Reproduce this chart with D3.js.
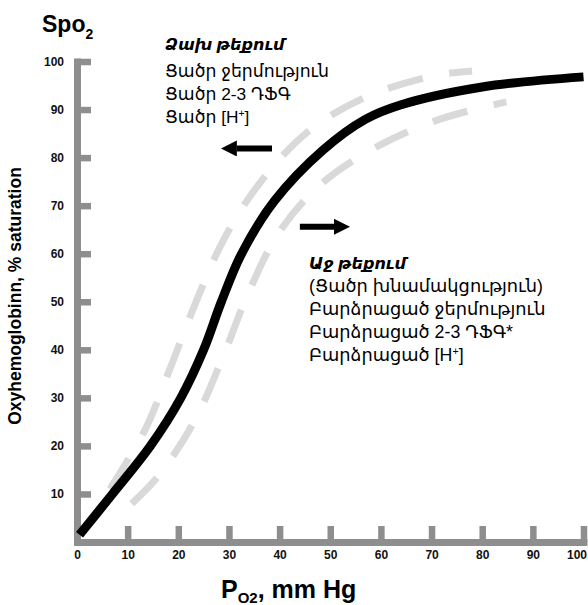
<!DOCTYPE html>
<html>
<head>
<meta charset="utf-8">
<script src="https://cdn.jsdelivr.net/npm/d3@7"></script>
<style>
  body { margin: 0; background: #fff; }
  svg { display: block; font-family: "Liberation Sans", Arial, "DejaVu Sans", sans-serif; }
</style>
</head>
<body>
<div id="chart"></div>
<script>
// PO2 (mm Hg) ticks and saturation (%) ticks
const pO2Ticks = [0, 10, 20, 30, 40, 50, 60, 70, 80, 90, 100];
const satTicks = [10, 20, 30, 40, 50, 60, 70, 80, 90, 100];

// [PO2, saturation]
const normalCurve = [[0.5, 1.5], [7, 10], [14.5, 20], [20.5, 30], [25, 40], [28.5, 50],
    [32.5, 60], [39, 71], [48.5, 81.5], [57, 88], [64, 91], [80, 94.7], [100, 96.8]];
const leftShiftCurve = [[6.5, 11], [13.5, 23.5], [18.7, 37], [23.7, 50.5], [29, 63],
    [36, 74.6], [45.5, 85.3], [57, 92.6], [70.3, 97], [78, 98]];
const rightShiftCurve = [[10.8, 8], [15.8, 13.4], [23, 24.8], [29, 39], [33.5, 51],
    [39.8, 64.3], [48.3, 74.6], [59.8, 82.6], [72, 88.1], [84.8, 91.6]];

// annotation texts
const leftTitle = "Ձախ թեքում";
const leftLines = ["Ցածր ջերմություն", "Ցածր 2-3 ԴՖԳ", "Ցածր [H+]"];
const rightTitle = "Աջ թեքում";
const rightLines = ["(Ցածր խնամակցություն)", "Բարձրացած ջերմություն", "Բարձրացած 2-3 ԴՖԳ*", "Բարձրացած [H+]"];

// arrows, in data units
const arrows = [
    { x1: 38.5, x2: 28.4, y: 81.9 },
    { x1: 44, x2: 53.9, y: 65.6 }
];

const width = 588;
const height = 605;
const axisGrey = "#8e8e8e";
const dashGrey = "#d9d9d9";

const svg = d3.select("#chart")
    .append("svg")
    .attr("width", width)
    .attr("height", height);

const xScale = d3.scaleLinear().domain([0, 100]).range([77, 583.5]);
const yScale = d3.scaleLinear().domain([0, 100]).range([542, 61.5]);

// axes
const xAxis = svg.append("g")
    .attr("transform", `translate(0, ${yScale(0)})`)
    .call(d3.axisBottom(xScale)
        .tickValues(pO2Ticks)
        .tickSize(-16)
        .tickSizeOuter(0)
        .tickPadding(8));

const yAxis = svg.append("g")
    .attr("transform", `translate(${xScale(0)}, 0)`)
    .call(d3.axisLeft(yScale)
        .tickValues(satTicks)
        .tickSize(-14)
        .tickSizeOuter(0)
        .tickPadding(13));

[xAxis, yAxis].forEach(ax => {
    ax.select(".domain")
        .attr("stroke", axisGrey)
        .attr("stroke-width", 7)
        .attr("stroke-linecap", "square");
    ax.selectAll(".tick line")
        .attr("stroke", axisGrey)
        .attr("stroke-width", 6.5);
    ax.selectAll(".tick text")
        .attr("fill", "#111")
        .attr("font-size", 12)
        .attr("font-weight", "bold")
        .attr("font-family", "'Liberation Sans', Arial, sans-serif");
});
// last label is pushed in a bit, like the original
xAxis.selectAll(".tick text").filter(d => d === 100).attr("dx", -7);

// curves
const lineGenerator = d3.line()
    .x(d => xScale(d[0]))
    .y(d => yScale(d[1]))
    .curve(d3.curveCatmullRom.alpha(0.5));

[leftShiftCurve, rightShiftCurve].forEach(c => {
    svg.append("path")
        .attr("d", lineGenerator(c))
        .attr("fill", "none")
        .attr("stroke", dashGrey)
        .attr("stroke-width", 7)
        .attr("stroke-dasharray", "36 27");
});

svg.append("path")
    .attr("d", lineGenerator(normalCurve))
    .attr("fill", "none")
    .attr("stroke", "#000")
    .attr("stroke-width", 9);

// arrows
const defs = svg.append("defs");
defs.append("marker")
    .attr("id", "arrow-head")
    .attr("markerUnits", "userSpaceOnUse")
    .attr("viewBox", "0 0 16 16")
    .attr("refX", 0)
    .attr("refY", 8)
    .attr("markerWidth", 16)
    .attr("markerHeight", 16)
    .attr("orient", "auto")
    .append("path")
    .attr("d", "M0,0 L16,8 L0,16 Z")
    .attr("fill", "#000");

svg.selectAll(".shift-arrow")
    .data(arrows)
    .join("line")
    .attr("class", "shift-arrow")
    .attr("x1", d => xScale(d.x1))
    .attr("x2", d => xScale(d.x2) + (d.x2 > d.x1 ? -16 : 16))
    .attr("y1", d => yScale(d.y))
    .attr("y2", d => yScale(d.y))
    .attr("stroke", "#000")
    .attr("stroke-width", 6)
    .attr("marker-end", "url(#arrow-head)");

// annotation text blocks
const addBlock = (x, y, title, lines, gap, size) => {
    const g = svg.append("g")
        .attr("transform", `translate(${x}, ${y})`)
        .attr("fill", "#000")
        .attr("font-size", size);

    g.append("text")
        .attr("font-weight", "bold")
        .attr("font-style", "italic")
        .attr("font-size", 16)
        .text(title);

    lines.forEach((ln, i) => {
        const t = g.append("text").attr("y", gap + i * 23);
        if (ln.endsWith("[H+]")) {
            t.append("tspan").text(ln.slice(0, -2));
            t.append("tspan").attr("font-size", size * 0.6).attr("dy", -6).text("+");
            t.append("tspan").attr("dy", 6).text("]");
        } else {
            t.text(ln);
        }
    });
};

addBlock(165, 50, leftTitle, leftLines, 27, 17.3);
addBlock(309, 269, rightTitle, rightLines, 23, 17.8);

// titles
const spo = svg.append("text")
    .attr("x", 42)
    .attr("y", 32)
    .attr("font-size", 23)
    .attr("font-weight", "bold")
    .text("Spo");
spo.append("tspan").attr("font-size", 14).attr("dy", 7).text("2");

const xTitle = svg.append("text")
    .attr("x", 221)
    .attr("y", 598)
    .attr("font-size", 25)
    .attr("font-weight", "bold")
    .text("P");
xTitle.append("tspan").attr("font-size", 15).attr("dy", 5).text("O2");
xTitle.append("tspan").attr("dy", -5).text(", mm Hg");

svg.append("text")
    .attr("transform", "translate(21, 296) rotate(-90)")
    .attr("text-anchor", "middle")
    .attr("font-size", 17.5)
    .attr("font-weight", "bold")
    .text("Oxyhemoglobinn, % saturation");
</script>
</body>
</html>
